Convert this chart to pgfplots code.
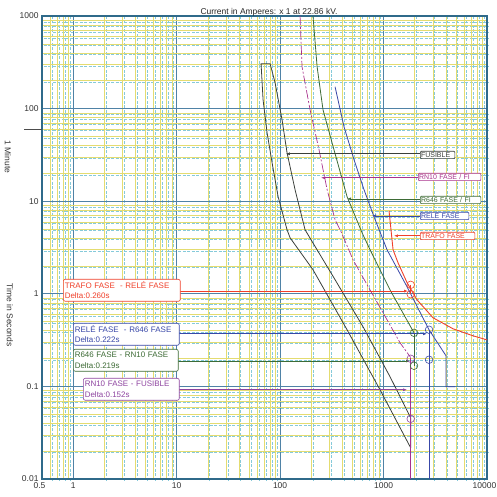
\documentclass[border=0pt]{standalone}
\usepackage{fontspec}
\setmainfont{Liberation Sans}
\usepackage{pgfplots}
\pgfplotsset{compat=1.18}
\usetikzlibrary{arrows.meta}
\definecolor{frameblue}{HTML}{2F6A8A}
\definecolor{majgrid}{HTML}{4F82A6}
\definecolor{mincyan}{HTML}{86CADA}
\definecolor{minyellow}{HTML}{E4DC70}
\definecolor{fusc}{HTML}{3A3F3A}
\definecolor{rnc}{HTML}{A8308C}
\definecolor{rnbox}{HTML}{8E44A0}
\definecolor{rgc}{HTML}{3D6B35}
\definecolor{relc}{HTML}{3847A8}
\definecolor{trc}{HTML}{F0402A}
\tikzset{
 dbox/.style={draw, fill=white, rounded corners=2pt, line width=0.6pt, anchor=north west,
   minimum height=22bp, inner sep=1.5pt, align=left, font=\fontsize{8}{10.5}\selectfont},
 cbox/.style={draw, fill=white, rounded corners=1pt, line width=0.6pt, anchor=north west,
   inner sep=0.8pt, align=left, font=\fontsize{7}{7}\selectfont, text height=5.2bp, text depth=0.6bp}
}
\def\minx{0.6,0.7,0.8,0.9,2,3,4,5,6,7,8,9,20,30,40,50,60,70,80,90,200,300,400,500,600,700,800,900,2000,3000,4000,5000,6000,7000,8000,9000}
\def\miny{0.02,0.03,0.04,0.05,0.06,0.07,0.08,0.09,0.2,0.3,0.4,0.5,0.6,0.7,0.8,0.9,2,3,4,5,6,7,8,9,20,30,40,50,60,70,80,90,200,300,400,500,600,700,800,900}
\begin{document}
\begin{tikzpicture}[x=1bp,y=1bp]
\path[use as bounding box] (-42,-18) rectangle (455,479);
% offset cyan dashed minor grid (scan look)
\begin{axis}[at={(1.8bp,-1.5bp)}, anchor=south west, scale only axis, width=445bp, height=463bp,
  xmode=log, ymode=log, xmin=0.5, xmax=10000, ymin=0.01, ymax=1000,
  minor xtick/.expanded=\minx, minor ytick/.expanded=\miny, tick style={draw=none},
  xtick={1,10,100,1000}, ytick={0.1,1,10,100}, xticklabels={}, yticklabels={},
  axis line style={draw=none}, grid=minor,
  minor grid style={mincyan, dash pattern=on 3pt off 1.5pt, line width=0.45pt}]
\addplot[draw=none] coordinates {(1,1)};
\end{axis}
\begin{axis}[at={(0,0)}, anchor=south west, scale only axis, width=445bp, height=463bp,
  xmode=log, ymode=log, xmin=0.5, xmax=10000, ymin=0.01, ymax=1000,
  minor xtick/.expanded=\minx, minor ytick/.expanded=\miny, tick style={draw=none},
  xtick={1,10,100,1000}, xticklabels={1,10,100,1000},
  extra x ticks={0.5,10000}, extra x tick labels={0.5,10000},
  extra x tick style={grid=none, xticklabel style={xshift=-2.5bp}},
  ytick={0.01,0.1,1,10,100,1000}, yticklabels={0.01,0.1,1,10,100,1000},
  grid=both, major grid style={majgrid, line width=0.6pt},
  minor grid style={minyellow, line width=0.45pt},
  axis line style={frameblue, line width=2.4pt},
  tick label style={font=\fontsize{8.5}{10}\selectfont, text=black!80},
  /pgf/number format/assume math mode=true]
% FUSIBLE
\addplot[fusc, line width=0.8pt] coordinates {
 (1830,0.0217)(925,0.0919)(444,0.409)(208,1.82)(125,4.02)(116.8,4.91)(95.7,11.2)(83.7,26)(74.9,54.8)(68.5,124.5)(65.5,305)
 (80.1,305)(89.5,190)(104.5,75.7)(116.8,33.3)(139.6,13.3)(174.4,4.91)(340,1.42)(634,0.44)(1156,0.127)(1830,0.0458)(1830,0.0217)};
% RN10
\addplot[rnc, line width=0.7pt, dash pattern=on 9pt off 2pt on 2pt off 2pt] coordinates {
 (156,1000)(163,283)(195,97)(238,35.9)(285,13.3)(340,6.3)(389,4.67)(507,2.33)(741,1.10)(1081,0.524)(1443,0.296)(1830,0.205)};
\addplot[rnc, line width=0.7pt] coordinates {(1830,0.205)(1830,0.01)};
% R646
\addplot[rgc, line width=0.8pt] coordinates {
 (208,1000)(228,283)(260,97)(332,35.9)(444,11.2)(620,4.56)(741,2.99)(1156,1.10)(1971,0.379)};
\addplot[rgc, line width=0.7pt] coordinates {(1971,0.379)(1971,0.167)};
% RELE
\addplot[relc, line width=0.8pt] coordinates {
 (340,172)(415,63.6)(519,28)(648,13.3)(809,6.78)(1081,2.99)(1687,1.19)(2752,0.409)(4017,0.214)(4017,0.099)(4908,0.099)};
\addplot[relc, line width=0.7pt] coordinates {(2752,0.409)(2752,0.01)};
% TRAFO
\addplot[trc, line width=0.9pt] coordinates {
 (1130,7.88)(1236,2.99)(1381,2.16)(1687,1.32)(2107,0.861)(3008,0.551)(4693,0.419)(7322,0.352)(10000,0.318)};
\addplot[trc, line width=0.7pt] coordinates {(1830,1.25)(1830,0.99)};
% curve label arrows
\addplot[fusc, line width=0.6pt, -{Latex[length=4pt,width=3pt]}] coordinates {(2253,32.5)(114,32.5)};
\addplot[rnc, line width=0.6pt, -{Latex[length=4pt,width=3pt]}] coordinates {(2154,17.9)(249,17.9)};
\addplot[rgc, line width=0.6pt, -{Latex[length=4pt,width=3pt]}] coordinates {(2253,10.6)(444,10.6)};
\addplot[relc, line width=0.6pt, -{Latex[length=4pt,width=3pt]}] coordinates {(2253,6.95)(774,6.95)};
\addplot[trc, line width=0.6pt, -{Latex[length=4pt,width=3pt]}] coordinates {(2253,4.23)(1262,4.23)};
% delta lines
\addplot[trc, line width=0.7pt, -{Latex[length=4pt,width=3pt]}] coordinates {(10.8,1.07)(1725,1.07)};
\addplot[relc, line width=0.7pt, -{Latex[length=4pt,width=3pt]}] coordinates {(10.6,0.37)(2633,0.37)};
\addplot[rgc, line width=0.7pt, -{Latex[length=4pt,width=3pt]}] coordinates {(10.3,0.188)(1803,0.188)};
\addplot[rnbox, line width=0.7pt, -{Latex[length=4pt,width=3pt]}] coordinates {(10.6,0.092)(1687,0.092)};
% delta circles
\addplot[trc, only marks, mark=o, mark size=3.8pt, line width=0.6pt] coordinates {(1830,1.25)(1830,0.99)};
\addplot[relc, only marks, mark=o, mark size=3.8pt, line width=0.6pt] coordinates {(2752,0.409)(2752,0.194)};
\addplot[rgc, only marks, mark=o, mark size=3.8pt, line width=0.6pt] coordinates {(1971,0.379)(1971,0.167)};
\addplot[rnbox, only marks, mark=o, mark size=3.8pt, line width=0.6pt] coordinates {(1830,0.199)(1830,0.0447)};
\end{axis}
% delta boxes
\node[dbox, draw=trc, text=trc, text width=114bp] at (21,200) {TRAFO FASE\ \ - RELÉ FASE\\Delta:0.260s};
\node[dbox, draw=relc, text=relc, text width=103bp] at (31,156) {RELÉ FASE\ \ - R646 FASE\\Delta:0.222s};
\node[dbox, draw=rgc, text=rgc, text width=102bp] at (31,130) {R646 FASE - RN10 FASE\\Delta:0.219s};
\node[dbox, draw=rnbox, text=rnbox, text width=93bp] at (41,101) {RN10 FASE - FUSIBLE\\Delta:0.152s};
% curve label boxes
\node[cbox, draw=fusc, text=fusc, text width=33bp] at (378,328) {FUSIBLE};
\node[cbox, draw=rnc, text=rnc, text width=61bp] at (376,306) {RN10 FASE / FI};
\node[cbox, draw=rgc, text=rgc, text width=59bp] at (378,283) {R646 FASE / FI};
\node[cbox, draw=relc, text=relc, text width=47bp] at (378,267) {RELÉ FASE};
\node[cbox, draw=trc, text=trc, text width=53bp] at (378,247) {TRAFO FASE};
% axis texts
\node[font=\fontsize{8.5}{10}\selectfont, text=black!85] at (227,467) {Current in Amperes: x 1 at 22.86 kV.};
\node[rotate=-90, font=\fontsize{8.5}{10}\selectfont, text=black!80] at (-34,322) {1 Minute};
\node[rotate=-90, font=\fontsize{8.5}{10}\selectfont, text=black!80] at (-32,164) {Time in Seconds};
\draw[black!70, line width=0.8pt] (-18,349.7) -- (0,349.7);
\end{tikzpicture}
\end{document}
